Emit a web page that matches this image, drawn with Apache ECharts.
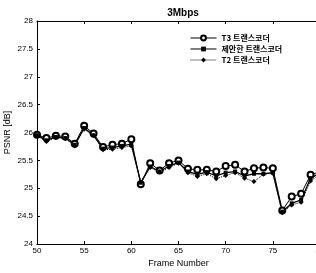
<!DOCTYPE html>
<html>
<head>
<meta charset="utf-8">
<script src="https://cdn.jsdelivr.net/npm/echarts@6/dist/echarts.min.js"></script>
<style>
html, body { margin: 0; padding: 0; background: #fff; }
#chart { width: 316px; height: 273px; }
</style>
</head>
<body>
<div id="chart"></div>
<script>
const frames = [50, 51, 52, 53, 54, 55, 56, 57, 58, 59, 60, 61, 62, 63, 64, 65, 66, 67, 68, 69, 70, 71, 72, 73, 74, 75, 76, 77, 78, 79, 80];
const t3 = [25.96, 25.90, 25.94, 25.93, 25.80, 26.12, 25.98, 25.74, 25.78, 25.80, 25.88, 25.07, 25.45, 25.32, 25.45, 25.50, 25.35, 25.33, 25.33, 25.30, 25.40, 25.42, 25.30, 25.36, 25.37, 25.36, 24.60, 24.85, 24.90, 25.24, 25.30];
const proposed = [25.95, 25.86, 25.92, 25.90, 25.78, 26.08, 25.95, 25.71, 25.73, 25.76, 25.79, 25.10, 25.39, 25.30, 25.40, 25.46, 25.30, 25.25, 25.29, 25.22, 25.28, 25.30, 25.22, 25.26, 25.26, 25.28, 24.58, 24.73, 24.79, 25.18, 25.27];
const t2 = [25.94, 25.84, 25.91, 25.89, 25.76, 26.06, 25.94, 25.69, 25.70, 25.73, 25.76, 25.11, 25.37, 25.29, 25.37, 25.45, 25.28, 25.21, 25.26, 25.17, 25.23, 25.28, 25.18, 25.12, 25.25, 25.27, 24.56, 24.70, 24.75, 25.13, 25.25];
const seriesNames = ['T3 트랜스코더', '제안한 트랜스코더', 'T2 트랜스코더'];

const pairs = vals => frames.map((f, i) => [f, vals[i]]);
const fontFamily = 'Liberation Sans, Arial, sans-serif';

const chart = echarts.init(document.getElementById('chart'));

const axisCommon = {
    axisLine: { lineStyle: { color: '#000', width: 1 } },
    axisTick: { inside: true, length: 3, lineStyle: { color: '#000' } },
    splitLine: { show: false }
};

chart.setOption({
    animation: false,
    backgroundColor: '#fff',
    title: {
        text: '3Mbps',
        left: 178,
        textAlign: 'center',
        top: 3,
        textStyle: { fontSize: 10, fontWeight: 'bold', color: '#000', fontFamily: fontFamily }
    },
    grid: { left: 37, width: 283, top: 21, bottom: 29, outerBoundsMode: 'none' },
    legend: {
        orient: 'vertical',
        left: 185,
        top: 29,
        itemWidth: 26,
        itemHeight: 6,
        itemGap: 3,
        lineStyle: { width: 1 },
        textStyle: { fontSize: 8, fontWeight: 'bold', color: '#000', fontFamily: 'Noto Sans CJK KR' },
        data: seriesNames
    },
    xAxis: [Object.assign({
        type: 'value',
        min: 50,
        max: 80,
        interval: 5,
        name: 'Frame Number',
        nameLocation: 'middle',
        nameGap: 15,
        nameMoveOverlap: false,
        nameTextStyle: { fontSize: 9, color: '#000', fontFamily: fontFamily },
        axisLabel: { fontSize: 8, color: '#000', margin: 3, fontFamily: fontFamily, showMaxLabel: true, hideOverlap: false }
    }, axisCommon), Object.assign({
        type: 'value',
        position: 'top',
        min: 50,
        max: 80,
        interval: 5,
        axisLabel: { show: false }
    }, axisCommon)],
    yAxis: [Object.assign({
        type: 'value',
        min: 24,
        max: 28,
        interval: 0.5,
        name: 'PSNR [dB]',
        nameLocation: 'middle',
        nameGap: 25,
        nameMoveOverlap: false,
        nameTextStyle: { fontSize: 9, color: '#000', fontFamily: fontFamily },
        axisLabel: { fontSize: 8, color: '#000', margin: 4, fontFamily: fontFamily }
    }, axisCommon), Object.assign({
        type: 'value',
        position: 'right',
        min: 24,
        max: 28,
        interval: 0.5,
        axisLabel: { show: false }
    }, axisCommon)],
    series: [{
        name: seriesNames[0],
        type: 'line',
        data: pairs(t3),
        symbol: 'emptyCircle',
        symbolSize: 6,
        itemStyle: { color: '#000', borderWidth: 1 },
        lineStyle: { color: '#000', width: 1 }
    }, {
        name: seriesNames[1],
        type: 'line',
        data: pairs(proposed),
        symbol: 'rect',
        symbolSize: 4,
        itemStyle: { color: '#000' },
        lineStyle: { color: '#000', width: 1.3 }
    }, {
        name: seriesNames[2],
        type: 'line',
        data: pairs(t2),
        symbol: 'diamond',
        symbolSize: 5,
        itemStyle: { color: '#000' },
        lineStyle: { color: '#000', width: 1, type: 'dotted' }
    }]
});
</script>
</body>
</html>
